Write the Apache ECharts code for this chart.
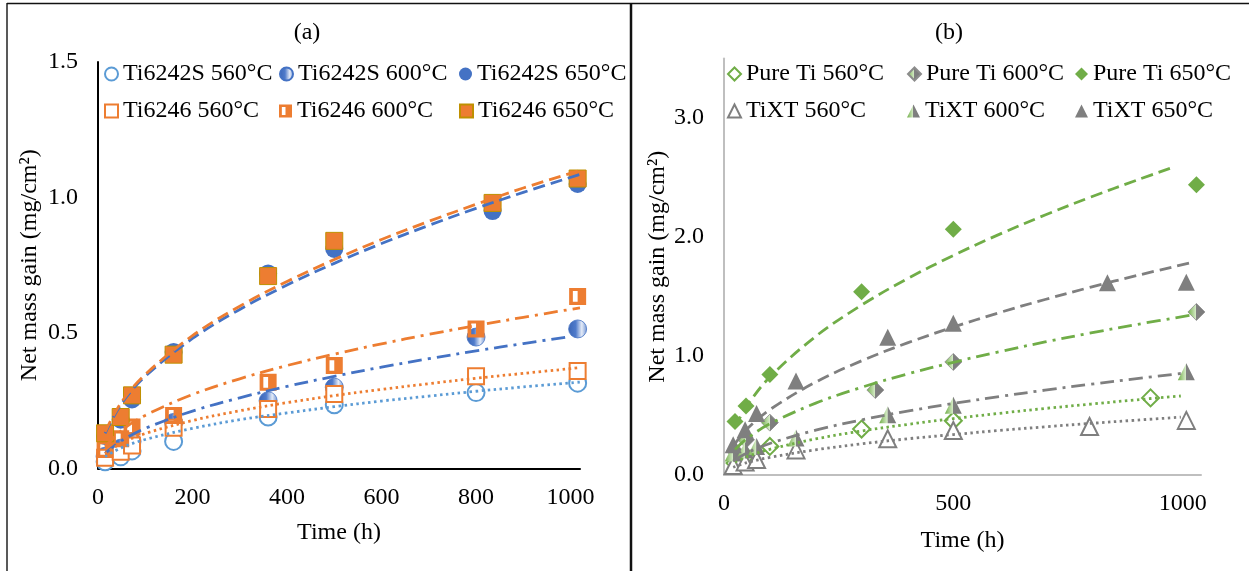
<!DOCTYPE html>
<html><head><meta charset="utf-8">
<script src="https://cdn.jsdelivr.net/npm/echarts@6/dist/echarts.min.js"></script>
<style>html,body{margin:0;padding:0;background:#fff}#c{width:1249px;height:571px}</style>
</head><body><div id="c"></div>
<script>
// ---------- Panel (a) data ----------
const tA = [15, 48, 72, 160, 360, 500, 800, 1015];
const tA650 = [15, 48, 72, 160, 360, 500, 835, 1015];
const ti6242S_560 = [0.025, 0.043, 0.065, 0.10, 0.19, 0.235, 0.28, 0.315];
const ti6242S_600 = [0.045, 0.075, 0.10, 0.17, 0.25, 0.30, 0.485, 0.515];
const ti6242S_650 = [0.12, 0.18, 0.255, 0.43, 0.72, 0.81, 0.95, 1.05];
const ti6246_560 = [0.04, 0.062, 0.085, 0.15, 0.22, 0.275, 0.34, 0.36];
const ti6246_600 = [0.07, 0.11, 0.153, 0.196, 0.318, 0.38, 0.515, 0.635];
const ti6246_650 = [0.13, 0.19, 0.27, 0.42, 0.71, 0.84, 0.98, 1.07];
// trend lines (a)
const fitT_A = [15, 50, 100, 200, 300, 400, 500, 600, 700, 800, 900, 1020];
const fitT_A2 = [15, 50, 100, 200, 300, 400, 500, 600, 700, 800, 900, 1000];
const fit6246_650 = [0.135, 0.246, 0.347, 0.49, 0.599, 0.69, 0.771, 0.845, 0.912, 0.975, 1.035, 1.10];
const fit6242_650 = [0.13, 0.24, 0.34, 0.48, 0.587, 0.677, 0.757, 0.83, 0.897, 0.96, 1.019, 1.085];
const fit6246_600 = [0.08, 0.141, 0.196, 0.273, 0.331, 0.38, 0.422, 0.46, 0.495, 0.527, 0.558, 0.593];
const fit6242_600 = [0.056, 0.103, 0.148, 0.212, 0.261, 0.303, 0.34, 0.374, 0.405, 0.434, 0.461, 0.487];
const fit6246_560 = [0.054, 0.094, 0.129, 0.177, 0.213, 0.243, 0.269, 0.292, 0.313, 0.333, 0.351, 0.372];
const fit6242_560 = [0.044, 0.077, 0.107, 0.148, 0.18, 0.205, 0.228, 0.249, 0.267, 0.285, 0.301, 0.319];

// ---------- Panel (b) data ----------
const tPure650 = [24, 48, 100, 300, 500, 1030];
const pure650 = [0.45, 0.58, 0.845, 1.54, 2.065, 2.44];
const tPure600 = [24, 48, 100, 330, 500, 1030];
const pure600 = [0.2, 0.296, 0.44, 0.714, 0.95, 1.37];
const tPure560 = [24, 48, 100, 300, 500, 930];
const pure560 = [0.1, 0.16, 0.24, 0.386, 0.456, 0.648];
const tXT650 = [20, 46, 71, 157, 357, 500, 836, 1008];
const xt650 = [0.254, 0.38, 0.516, 0.789, 1.158, 1.276, 1.615, 1.62];
const tXT600 = [20, 46, 71, 157, 357, 500, 1008];
const xt600 = [0.185, 0.21, 0.24, 0.31, 0.507, 0.586, 0.868];
const tXT560 = [20, 46, 71, 157, 357, 500, 797, 1008];
const xt560 = [0.08, 0.11, 0.13, 0.211, 0.304, 0.374, 0.408, 0.459];
// trend lines (b)
const fitT_P650 = [24, 50, 100, 200, 300, 400, 500, 600, 700, 800, 900, 975];
const fitPure650 = [0.402, 0.581, 0.823, 1.165, 1.428, 1.65, 1.845, 2.022, 2.185, 2.336, 2.478, 2.58];
const fitT_X650 = [20, 50, 100, 200, 300, 400, 500, 600, 700, 800, 900, 1014];
const fitXT650 = [0.242, 0.386, 0.549, 0.781, 0.96, 1.11, 1.243, 1.364, 1.475, 1.579, 1.676, 1.78];
const fitT_P600 = [24, 50, 100, 200, 300, 400, 500, 600, 700, 800, 900, 1022];
const fitPure600 = [0.213, 0.306, 0.43, 0.604, 0.737, 0.849, 0.947, 1.036, 1.118, 1.194, 1.265, 1.346];
const fitT_X600 = [20, 50, 100, 200, 300, 400, 500, 600, 700, 800, 900, 996];
const fitXT600 = [0.117, 0.186, 0.265, 0.377, 0.463, 0.537, 0.601, 0.659, 0.713, 0.763, 0.81, 0.853];
const fitT_P560 = [24, 50, 100, 200, 300, 400, 500, 600, 700, 800, 900, 996];
const fitPure560 = [0.108, 0.154, 0.216, 0.303, 0.37, 0.425, 0.474, 0.518, 0.559, 0.596, 0.632, 0.664];
const fitT_X560 = [20, 50, 100, 200, 300, 400, 500, 600, 700, 800, 900, 996];
const fitXT560 = [0.065, 0.104, 0.148, 0.212, 0.262, 0.304, 0.34, 0.374, 0.405, 0.434, 0.461, 0.486];

const legendA1 = ['Ti6242S 560°C', 'Ti6242S 600°C', 'Ti6242S 650°C'];
const legendA2 = ['Ti6246 560°C', 'Ti6246 600°C', 'Ti6246 650°C'];
const legendB1 = ['Pure Ti 560°C', 'Pure Ti 600°C', 'Pure Ti 650°C'];
const legendB2 = ['TiXT 560°C', 'TiXT 600°C', 'TiXT 650°C'];
const titleA = '(a)', titleB = '(b)';
const xName = 'Time (h)', yName = 'Net mass gain (mg/cm²)';

// ---------- styling ----------
const F = 'Liberation Serif';
const FS = 24;
const BLUE = '#4472C4', LBLUE = '#5B9BD5', ORANGE = '#ED7D31', GREEN = '#70AD47', GRAY = '#7F7F7F';
const pts = (t, v) => t.map((x, i) => [x, v[i]]);
const halfBlue = {type: 'linear', x: 0, y: 0, x2: 1, y2: 0, colorStops: [
  {offset: 0, color: '#3B65B5'}, {offset: 0.4, color: '#4F7BCB'}, {offset: 0.72, color: '#E4EBF7'}, {offset: 1, color: '#6F92D2'}]};
const halfGreenGray = {type: 'linear', x: 0, y: 0, x2: 1, y2: 0, colorStops: [
  {offset: 0, color: '#70AD47'}, {offset: 0.48, color: '#D6EBC8'}, {offset: 0.5, color: '#808080'}, {offset: 1, color: '#7A7A7A'}]};
const halfSquare = 'path://M0,0L16,0L16,16L0,16Z M3.5,3L3.5,13L8,13L8,3Z';

function scat(name, xi, data, symbol, size, itemStyle) {
  return {name, type: 'scatter', xAxisIndex: xi, yAxisIndex: xi, data, symbol, symbolSize: size,
    itemStyle: Object.assign({opacity: 1}, itemStyle), z: 2, silent: true, emphasis: {disabled: true}};
}
function fit(xi, data, color, type) {
  return {type: 'line', xAxisIndex: xi, yAxisIndex: xi, data, symbol: 'none', smooth: 0.35,
    lineStyle: {color, width: 2.8, type}, z: 3, silent: true};
}
const DASH = [12, 6], DASHDOT = [14, 6, 3, 6], DOT = [2.5, 3.5];

const series = [
  scat(legendA1[0], 0, pts(tA, ti6242S_560), 'emptyCircle', 17, {color: LBLUE, borderColor: LBLUE, borderWidth: 2.6}),
  scat(legendA1[1], 0, pts(tA, ti6242S_600), 'circle', 18, {color: halfBlue, borderColor: BLUE, borderWidth: 0.8}),
  scat(legendA1[2], 0, pts(tA650, ti6242S_650), 'circle', 18, {color: BLUE}),
  scat(legendA2[0], 0, pts(tA, ti6246_560), 'emptyRect', 16, {color: ORANGE, borderColor: ORANGE, borderWidth: 2.6}),
  scat(legendA2[1], 0, pts(tA, ti6246_600), halfSquare, 17, {color: ORANGE}),
  scat(legendA2[2], 0, pts(tA650, ti6246_650), 'rect', 17, {color: ORANGE, borderColor: '#BF9000', borderWidth: 1}),
  fit(0, pts(fitT_A, fit6242_560), LBLUE, DOT),
  fit(0, pts(fitT_A2, fit6242_600), BLUE, DASHDOT),
  fit(0, pts(fitT_A, fit6242_650), BLUE, DASH),
  fit(0, pts(fitT_A, fit6246_560), ORANGE, DOT),
  fit(0, pts(fitT_A, fit6246_600), ORANGE, DASHDOT),
  fit(0, pts(fitT_A, fit6246_650), ORANGE, DASH),

  scat(legendB1[0], 1, pts(tPure560, pure560), 'emptyDiamond', 17, {color: GREEN, borderColor: GREEN, borderWidth: 1.5}),
  scat(legendB1[1], 1, pts(tPure600, pure600), 'diamond', 17, {color: halfGreenGray, borderColor: '#8C8C8C', borderWidth: 0.8}),
  scat(legendB1[2], 1, pts(tPure650, pure650), 'diamond', 17, {color: GREEN}),
  scat(legendB2[0], 1, pts(tXT560, xt560), 'emptyTriangle', 17, {color: GRAY, borderColor: GRAY, borderWidth: 1.5}),
  scat(legendB2[1], 1, pts(tXT600, xt600), 'triangle', 17, {color: halfGreenGray}),
  scat(legendB2[2], 1, pts(tXT650, xt650), 'triangle', 17, {color: GRAY}),
  fit(1, pts(fitT_P560, fitPure560), GREEN, DOT),
  fit(1, pts(fitT_P600, fitPure600), GREEN, DASHDOT),
  fit(1, pts(fitT_P650, fitPure650), GREEN, DASH),
  fit(1, pts(fitT_X560, fitXT560), GRAY, DOT),
  fit(1, pts(fitT_X600, fitXT600), GRAY, DASHDOT),
  fit(1, pts(fitT_X650, fitXT650), GRAY, DASH)
];

const txt = {fontFamily: F, fontSize: FS, color: '#000'};
function leg(name, left, top) {
  return {data: [name], left, top, padding: 0, itemWidth: 13, itemHeight: 13, itemGap: 0,
    selectedMode: false, textStyle: Object.assign({}, txt, {padding: [0, 0, 0, 0]})};
}
const legends = [];
const colA = [104, 279, 459], colB = [727, 907, 1075], rows = [62, 99];
legendA1.forEach((n, i) => legends.push(leg(n, colA[i], rows[0])));
legendA2.forEach((n, i) => legends.push(leg(n, colA[i], rows[1])));
legendB1.forEach((n, i) => legends.push(leg(n, colB[i], rows[0])));
legendB2.forEach((n, i) => legends.push(leg(n, colB[i], rows[1])));

function xAx(gi, max, interval, lineColor, margin, gap) {
  return {type: 'value', gridIndex: gi, min: 0, max, interval,
    axisLine: {show: true, onZero: false, lineStyle: {color: lineColor, width: 2}},
    axisTick: {show: false}, splitLine: {show: false},
    axisLabel: Object.assign({}, txt, {margin, showMaxLabel: false, formatter: v => (v % interval === 0 ? String(v) : '')}),
    name: xName, nameLocation: 'middle', nameGap: gap, nameTextStyle: txt};
}
function yAx(gi, max, interval, lineColor, gap) {
  return {type: 'value', gridIndex: gi, min: 0, max, interval,
    axisLine: {show: true, onZero: false, lineStyle: {color: lineColor, width: 2}},
    axisTick: {show: false}, splitLine: {show: false},
    axisLabel: Object.assign({}, txt, {margin: 20, showMaxLabel: max % interval === 0,
      formatter: v => (Math.abs(v / interval - Math.round(v / interval)) < 1e-9 ? v.toFixed(1) : '')}),
    name: yName, nameLocation: 'middle', nameGap: gap, nameRotate: 90, nameTextStyle: txt};
}

const option = {
  animation: false,
  backgroundColor: '#fff',
  grid: [
    {left: 98, right: 669, top: 62, bottom: 102.5},
    {left: 724, right: 48, top: 58.5, bottom: 96}
  ],
  xAxis: [xAx(0, 1020, 200, '#000', 17, 52), xAx(1, 1040, 500, '#BFBFBF', 17, 54)],
  yAxis: [yAx(0, 1.5, 0.5, '#000', 56), yAx(1, 3.5, 1, '#BFBFBF', 46)],
  legend: legends,
  series,
  graphic: [
    {type: 'line', shape: {x1: 7, y1: 3, x2: 7, y2: 571}, style: {stroke: '#595959', lineWidth: 2}},
    {type: 'line', shape: {x1: 7, y1: 3.5, x2: 1249, y2: 3.5}, style: {stroke: '#111', lineWidth: 1.5}},
    {type: 'line', shape: {x1: 631, y1: 3, x2: 631, y2: 571}, style: {stroke: '#111', lineWidth: 2.5}},
    {type: 'text', x: 307, y: 33, style: {text: titleA, fontFamily: F, fontSize: FS, fill: '#000', align: 'center', verticalAlign: 'middle'}},
    {type: 'text', x: 949, y: 33, style: {text: titleB, fontFamily: F, fontSize: FS, fill: '#000', align: 'center', verticalAlign: 'middle'}}
  ]
};
const chart = echarts.init(document.getElementById('c'), null, {renderer: 'canvas'});
chart.setOption(option);
</script></body></html>
